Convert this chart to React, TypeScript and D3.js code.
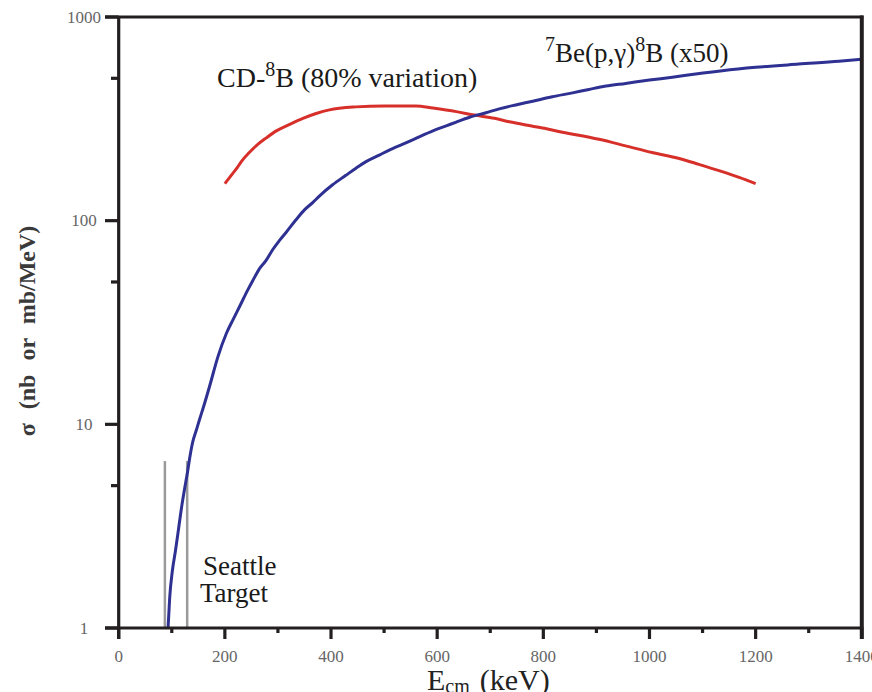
import React from 'react';
import * as d3 from 'd3';

// 7Be(p,γ)8B (x50) curve: [E_cm keV, sigma]
const blueData: [number, number][] = [
  [93, 1.0], [96, 1.4], [101, 1.9], [107, 2.4], [113, 3.1], [119, 4.0], [124, 4.8],
  [130, 5.9], [134, 6.9], [139, 8.1], [147, 9.5], [152, 10.5], [159, 12.0], [171, 15.3],
  [187, 21.5], [203, 28], [215, 32.5], [228, 38], [243, 45.6], [253, 51], [265, 58],
  [278, 64], [290, 72], [303, 80], [316, 88], [334, 101], [350, 113], [366, 123],
  [378, 132], [403, 150], [428, 167], [447, 181], [466, 195], [491, 210], [516, 226],
  [541, 241], [566, 258], [592, 276], [617, 292], [636, 305], [661, 322], [692, 339],
  [717, 354], [748, 370], [780, 386], [817, 406], [855, 424], [886, 441], [918, 458],
  [955, 472], [1000, 490], [1043, 506], [1087, 525], [1137, 545], [1200, 566],
  [1281, 587], [1357, 606], [1400, 620],
];

// CD-8B curve
const redData: [number, number][] = [
  [200, 152], [212, 167], [224, 183], [231, 195], [246, 216], [262, 237], [278, 255],
  [297, 276], [322, 297], [347, 318], [372, 336], [397, 350], [447, 362], [500, 366],
  [560, 366], [592, 357], [636, 343], [670, 330], [708, 318], [736, 306], [767, 295],
  [802, 284], [827, 275], [905, 251], [955, 233], [1005, 216], [1056, 202], [1093, 189],
  [1134, 175], [1169, 163], [1200, 152],
];

const seattleLines = [87, 129];
const seattleTop = 6.6;

const xMajorTicks = [0, 200, 400, 600, 800, 1000, 1200, 1400];
const xMinorTicks = [100, 300, 500, 700, 900, 1100, 1300];
const yMajorTicks = [1, 10, 100, 1000];
const yMinorTicks = [5, 50, 500];

const SERIF = "Liberation Serif, Times New Roman, serif";
const AXIS = '#231f20';

export default function App() {
  const W = 872;
  const H = 692;
  const x = d3.scaleLinear().domain([0, 1400]).range([118.7, 861.8]);
  const y = d3.scaleLog().domain([1, 1000]).range([628, 17]);
  const line = d3
    .line<[number, number]>()
    .curve(d3.curveMonotoneX)
    .x((d) => x(d[0]))
    .y((d) => y(d[1]));

  const x0 = x(0);
  const x1 = x(1400);
  const yb = y(1);
  const yt = y(1000);
  const ff = { fontFamily: SERIF };

  return (
    <>
      <style>{`body{margin:0;} svg text{font-family:"Liberation Serif","Times New Roman",serif;}`}</style>
      <svg width={W} height={H} style={{ display: 'block', background: '#fff' }}>
        {/* Seattle target lines */}
        {seattleLines.map((e) => (
          <line key={e} x1={x(e)} x2={x(e)} y1={y(seattleTop)} y2={yb} stroke="#9a9a9a" strokeWidth={2.5} />
        ))}

        {/* curves */}
        <path d={line(redData) || ''} fill="none" stroke="#d7302b" strokeWidth={3} strokeLinejoin="round" />
        <path d={line(blueData) || ''} fill="none" stroke="#2e3192" strokeWidth={3} strokeLinejoin="round" />

        {/* frame */}
        <line x1={105} x2={x1 + 1.5} y1={yt} y2={yt} stroke={AXIS} strokeWidth={3.2} />
        <line x1={105} x2={x1 + 1.5} y1={yb} y2={yb} stroke={AXIS} strokeWidth={3.2} />
        <line x1={x0} x2={x0} y1={yt} y2={yb + 11} stroke={AXIS} strokeWidth={3.2} />
        <line x1={x1} x2={x1} y1={yt - 1.5} y2={yb + 11} stroke={AXIS} strokeWidth={4} />

        {/* y ticks */}
        {yMajorTicks.map((t) => (
          <line key={'ym' + t} x1={105} x2={x0} y1={y(t)} y2={y(t)} stroke={AXIS} strokeWidth={3.2} />
        ))}
        {yMinorTicks.map((t) => (
          <line key={'yn' + t} x1={111} x2={x0} y1={y(t)} y2={y(t)} stroke={AXIS} strokeWidth={3.2} />
        ))}
        {/* x ticks */}
        {xMajorTicks.map((t) => (
          <line key={'xm' + t} x1={x(t)} x2={x(t)} y1={yb} y2={yb + 11} stroke={AXIS} strokeWidth={3.2} />
        ))}
        {xMinorTicks.map((t) => (
          <line key={'xn' + t} x1={x(t)} x2={x(t)} y1={yb} y2={yb + 5} stroke={AXIS} strokeWidth={3.2} />
        ))}

        {/* tick labels */}
        {yMajorTicks.map((t) => (
          <text key={'yl' + t} style={ff} x={84} y={y(t)} textAnchor="middle" dominantBaseline="central" fontSize={17} fill="#666">
            {String(t)}
          </text>
        ))}
        {xMajorTicks.map((t) => (
          <text key={'xl' + t} style={ff} x={x(t)} y={656} textAnchor="middle" dominantBaseline="central" fontSize={17} fill="#666">
            {String(t)}
          </text>
        ))}

        {/* y-axis title */}
        <text
          style={{ ...ff, wordSpacing: '8px' }}
          transform="translate(27,331) rotate(-90)"
          textAnchor="middle"
          dominantBaseline="central"
          fontSize={24}
          fontWeight="bold"
          fill="#3a3a3a"
        >
          σ (nb or mb/MeV)
        </text>

        {/* x-axis title */}
        <text style={ff} x={427} y={690} fontSize={30} fill="#222">
          E
          <tspan fontSize={20} dy={3}>cm</tspan>
          <tspan dy={-3} dx={10}>(keV)</tspan>
        </text>

        {/* curve labels */}
        <text style={ff} x={217} y={87} fontSize={28} fill="#1a1a1a">
          CD-
          <tspan fontSize={20} dy={-11}>8</tspan>
          <tspan dy={11}>B (80% variation)</tspan>
        </text>
        <text style={ff} x={545} y={62} fontSize={27} fill="#1a1a1a">
          <tspan fontSize={20} dy={-11}>7</tspan>
          <tspan dy={11}>Be(p,γ)</tspan>
          <tspan fontSize={20} dy={-11}>8</tspan>
          <tspan dy={11}>B (x50)</tspan>
        </text>

        <text style={ff} x={203} y={575} fontSize={27} fill="#1a1a1a">Seattle</text>
        <text style={ff} x={200} y={602} fontSize={27} fill="#1a1a1a">Target</text>
      </svg>
    </>
  );
}
